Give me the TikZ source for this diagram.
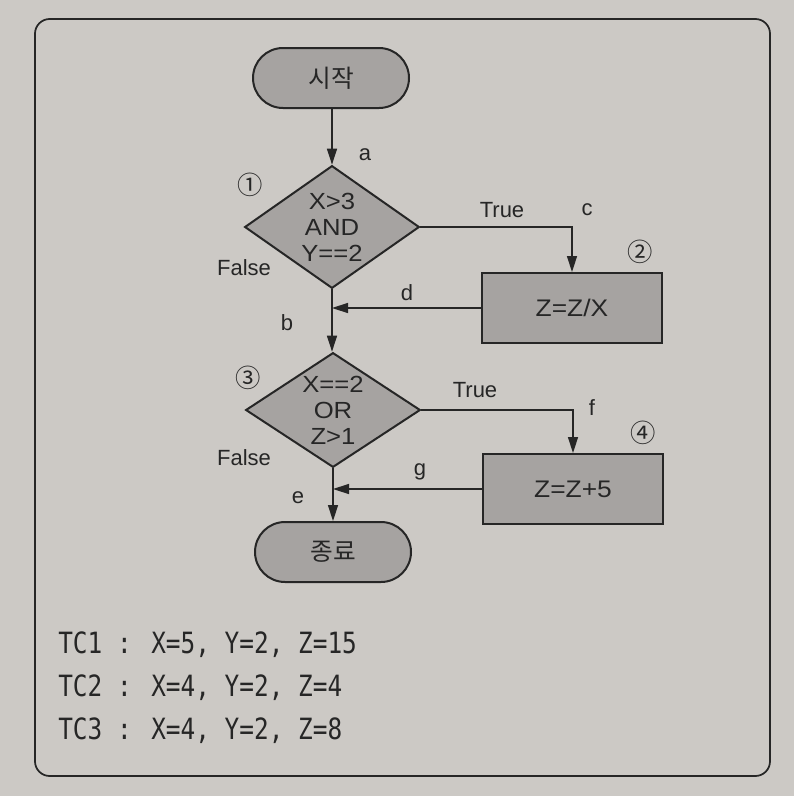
\documentclass[tikz,border=0pt]{standalone}
\usepackage{fontspec}
\setmainfont{Liberation Sans}
\newfontfamily\widefont[FakeStretch=1.1]{Liberation Sans}
\newfontfamily\krfont{Noto Sans CJK KR}
\newfontfamily\monofont{DejaVu Sans Mono}
\usetikzlibrary{shapes.geometric,arrows.meta}
\definecolor{pagebg}{RGB}{204,201,197}
\definecolor{shapefill}{RGB}{166,163,161}
\definecolor{ink}{RGB}{38,38,38}
\begin{document}
\begin{tikzpicture}[x=0.75pt,y=-0.75pt,
  every node/.style={text=ink},
  term/.style={draw=ink,fill=shapefill,line width=1.5pt,rounded corners=22.5pt,
    minimum width=117pt,minimum height=45pt,font=\krfont\fontsize{18.5}{20}\selectfont},
  dec/.style={diamond,draw=ink,fill=shapefill,line width=1.5pt,inner sep=0pt,
    shape aspect=1.5,align=center,font=\widefont\fontsize{17.5}{19.5}\selectfont,minimum width=131pt},
  proc/.style={draw=ink,fill=shapefill,line width=1.5pt,minimum width=135pt,
    minimum height=52.5pt,font=\widefont\fontsize{18}{20}\selectfont},
  lbl/.style={font=\fontsize{16.5}{19}\selectfont,inner sep=0pt},
  num/.style={font=\krfont\fontsize{19}{21}\selectfont,inner sep=0pt},
  conn/.style={draw=ink,line width=1.1pt,-{Triangle[length=12pt,width=7.5pt]}},
  tcline/.style={font=\monofont\fontsize{18.3}{22}\selectfont,anchor=west,inner sep=0pt}
]
\fill[pagebg] (0,0) rectangle (794,796);
\useasboundingbox (0,0) rectangle (794,796);
\draw[ink,line width=1.3pt,rounded corners=11pt] (35,19) rectangle (770,776);

% nodes
\node[term] (start) at (331,78) {시작};
\node[dec,minimum height=92pt] (d1) at (332,227) {X>3\\AND\\Y==2};
\node[proc] (p2) at (572,308) {Z=Z/X};
\node[dec,minimum height=86pt] (d3) at (333,410) {X==2\\OR\\Z>1};
\node[proc] (p4) at (573,489) {Z=Z+5};
\node[term] (end) at (333,552) {종료};

% connectors
\draw[conn] (start.south -| d1.north) -- (d1.north);
\draw[conn] (d1.east) -| (p2.north);
\draw[conn] (p2.west) -- (p2.west -| d1.south);
\draw[conn] (d1.south) -- (d1.south |- d3.north);
\draw[conn] (d3.east) -| (p4.north);
\draw[conn] (p4.west) -- (p4.west -| d3.south);
\draw[conn] (d3.south) -- (end.north);

% labels
\node[lbl] (la) at (365,155) {a};
\node[lbl] (lb) at (287,323) {b};
\node[lbl] (lc) at (587,210) {c};
\node[lbl] (ld) at (407,293) {d};
\node[lbl] (le) at (298,498) {e};
\node[lbl] (lf) at (592,408) {f};
\node[lbl] (lg) at (420,472) {g};
\node[lbl] (t1) at (502,210) {True};
\node[lbl] (t2) at (475,390) {True};
\node[lbl] (f1) at (244,268) {False};
\node[lbl] (f2) at (244,458) {False};
\node[num] (n1) at (250,185) {①};
\node[num] (n2) at (640,252) {②};
\node[num] (n3) at (248,378) {③};
\node[num] (n4) at (643,433) {④};

% test cases
\node[tcline] (tc1) at (58,645) {\scalebox{1}[1.2]{TC1 : X=5, Y=2, Z=15}};
\node[tcline] (tc2) at (58,688) {\scalebox{1}[1.2]{TC2 : X=4, Y=2, Z=4}};
\node[tcline] (tc3) at (58,731) {\scalebox{1}[1.2]{TC3 : X=4, Y=2, Z=8}};
\end{tikzpicture}
\end{document}
